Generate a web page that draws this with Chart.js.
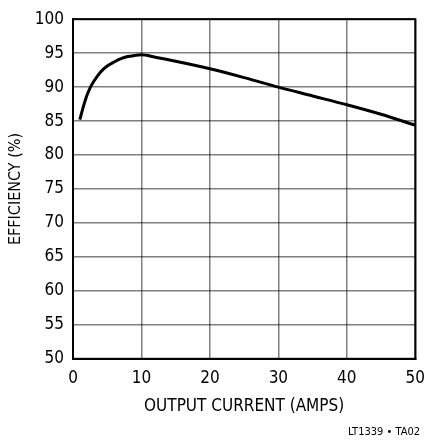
<!DOCTYPE html>
<html>
<head>
<meta charset="utf-8">
<script src="https://cdn.jsdelivr.net/npm/chart.js@4.4.1/dist/chart.umd.min.js"></script>
<style>
  html, body { margin: 0; padding: 0; background: #fff; }
  #wrap { width: 435px; height: 448px; }
</style>
</head>
<body>
<div id="wrap"><canvas id="myChart" width="435" height="448"></canvas></div>
<script>
// efficiency curve
var outputCurrent = [1, 1.5, 2, 2.5, 3, 4, 5, 6, 7, 8, 9, 10, 12, 15, 20, 25, 30, 35, 40, 45, 50];
var efficiency = [85.2, 87.1, 88.7, 89.9, 90.8, 92.2, 93.1, 93.7, 94.2, 94.5, 94.65, 94.75, 94.4, 93.8, 92.7, 91.4, 90.0, 88.7, 87.4, 86.0, 84.4];

var xTicks = [0, 10, 20, 30, 40, 50];
var yTicks = [50, 55, 60, 65, 70, 75, 80, 85, 90, 95, 100];

var fontFamily = '"Liberation Sans Narrow", "DejaVu Sans Condensed", "Liberation Sans", sans-serif';

var points = outputCurrent.map(function (x, i) {
	return { x: x, y: efficiency[i] };
});

var ctx = document.getElementById("myChart").getContext('2d');
var myChart = new Chart(ctx, {
	type: 'line',
	data: {
		datasets: [{
			label: "Efficiency",
			data: points,
			borderColor: "#000",
			borderWidth: 3,
			pointRadius: 0,
			fill: false,
			cubicInterpolationMode: 'monotone'
		}]
	},
	options: {
		responsive: false,
		animation: false,
		layout: {
			padding: { top: 14, right: 15, bottom: 0, left: 0 }
		},
		plugins: {
			legend: { display: false },
			tooltip: { enabled: false },
			subtitle: {
				display: true,
				text: "LT1339 \u2022 TA02",
				position: 'bottom',
				align: 'end',
				color: "#000",
				font: { family: fontFamily, size: 11 },
				padding: { top: 6, bottom: 9 }
			}
		},
		scales: {
			x: {
				type: 'linear',
				min: 0,
				max: 50,
				afterBuildTicks: function (axis) {
					axis.ticks = xTicks.map(function (v) { return { value: v }; });
				},
				afterFit: function (axis) { axis.height = 61; },
				grid: { color: "rgba(0,0,0,0.5)", lineWidth: 1.5, drawTicks: false },
				border: { color: "#000", width: 2 },
				ticks: {
					color: "#000",
					padding: 10,
					maxRotation: 0,
					font: { family: fontFamily, size: 17 }
				},
				title: {
					display: true,
					text: "OUTPUT CURRENT (AMPS)",
					color: "#000",
					font: { family: fontFamily, size: 17 },
					padding: { top: 0, bottom: 3 }
				}
			},
			y: {
				min: 50,
				max: 100,
				afterBuildTicks: function (axis) {
					axis.ticks = yTicks.map(function (v) { return { value: v }; });
				},
				afterFit: function (axis) { axis.width = 73; },
				grid: { color: "rgba(0,0,0,0.5)", lineWidth: 1.5, drawTicks: false },
				border: { color: "#000", width: 2 },
				ticks: {
					color: "#000",
					padding: 9,
					font: { family: fontFamily, size: 17 }
				},
				title: {
					display: true,
					text: "EFFICIENCY (%)",
					color: "#000",
					font: { family: fontFamily, size: 16 },
					padding: { top: 6, bottom: 0 }
				}
			}
		}
	},
	plugins: [{
		// close the box on the top and right like the original frame
		id: 'frame',
		afterDraw: function (chart) {
			var a = chart.chartArea, c = chart.ctx;
			c.save();
			c.strokeStyle = "#000";
			c.lineWidth = 2;
			c.strokeRect(a.left, a.top, a.right - a.left, a.bottom - a.top);
			c.restore();
		}
	}]
});
</script>
</body>
</html>
